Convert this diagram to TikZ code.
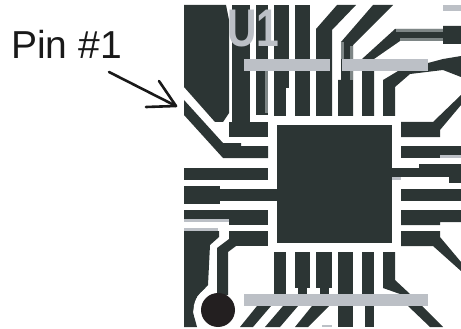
\documentclass[tikz,border=0pt]{standalone}
\usepackage{fontspec}
\setmainfont{Liberation Sans}
\definecolor{cu}{HTML}{2C3534}
\definecolor{silk}{HTML}{BCC0C6}
\definecolor{edge}{HTML}{7E8686}
\definecolor{dot}{HTML}{231F20}
\tikzset{cop/.style={fill=cu,draw=none},
 gray strip/.style={fill=silk,draw=none},
 soft edge/.style={fill=edge,draw=none},
 lead/.style={draw=black!90,line width=2.6pt,line cap=round,line join=round}}
\begin{document}
\begin{tikzpicture}[x=1pt,y=-1pt]
\useasboundingbox (0,0) rectangle (461,329);
% left column
\path[cop] (184,5)--(226,5)--(229,20)--(229,113)--(223,122)--(215,122)--(184,87)--cycle;
\path[cop] (232,5) rectangle (250,122);
\path[cop] (229,122) rectangle (268,137);
\path[cop] (184,100)--(184,115)--(223,158)--(268,158)--(268,146)--(241,146)--(241,143)--(223,143)--cycle;
\path[cop] (184,168) rectangle (268,180);
\path[cop] (184,186) rectangle (220,204);
\path[cop] (220,189) rectangle (277,201);
\path[cop] (184,210) rectangle (268,219);
\path[cop] (229,219) rectangle (268,225);
\path[fill=silk] (184,219) rectangle (229,222);
\path[cop] (229,231) rectangle (268,246);
\path[cop] (184,231)--(219,231)--(219,237)--(210,245)--(208,285)--(197,297)--(193,312)--(197,327)--(184,327)--cycle;
\path[fill=silk] (184,228) rectangle (218,231);
% centre pad
\path[cop] (277,125) rectangle (392,243);
% top verticals
\path[cop] (256,5) rectangle (268,115);
\path[soft edge] (265,71) rectangle (268,113);
\path[cop] (274,5) rectangle (286,116);
\path[cop] (286,5) rectangle (289,88);
\path[cop] (295,5) rectangle (310,116);
\path[cop] (316,116)--(332,116)--(332,30)--(356,5)--(337,5)--(316,29)--cycle;
\path[cop] (338,116)--(353,116)--(353,45)--(393,5)--(373,5)--(341,42)--(341,80)--(338,80)--cycle;
\path[soft edge] (341,42) rectangle (344,59);
\path[soft edge] (350,46) rectangle (353,80);
\path[cop] (362,116)--(374,116)--(374,59)--(400,41)--(443,41)--(443,44)--(461,44)--(461,26)--(443,26)--(443,29)--(395,29)--(362,59)--cycle;
\path[soft edge] (396,29) rectangle (443,32);
\path[soft edge] (400,38) rectangle (443,41);
\path[cop] (383,116)--(395,116)--(395,87)--(410,74)--(443,70)--(461,77)--(461,56)--(443,59)--(428,63)--(420,70)--(398,71)--(383,80)--cycle;
% right column
\path[cop] (401,122)--(433,122)--(461,95)--(461,105)--(440,130)--(440,137)--(401,137)--cycle;
\path[cop] (401,146) rectangle (461,158);
\path[fill=silk] (440,155) rectangle (461,158);
\path[cop] (419,164) rectangle (461,168);
\path[cop] (392,168) rectangle (461,177);
\path[cop] (449,177) rectangle (461,183);
\path[fill=silk] (392,177) rectangle (401,180);
\path[cop] (401,189) rectangle (461,201);
\path[cop] (401,210)--(461,210)--(461,222)--(440,222)--(440,225)--(401,225)--cycle;
\path[cop] (401,231)--(440,231)--(440,237)--(461,262)--(461,271)--(433,246)--(401,246)--cycle;
% bottom verticals
\path[cop] (274,252) rectangle (286,294);
\path[cop] (295,252) rectangle (310,288);
\path[cop] (298,288) rectangle (307,294);
\path[cop] (316,252) rectangle (332,288);
\path[cop] (320,288) rectangle (329,294);
\path[cop] (338,252) rectangle (353,327);
\path[cop] (362,252) rectangle (374,327);
\path[cop] (383,252)--(395,252)--(395,280)--(410,294)--(400,294)--(383,288)--cycle;
% traces below the bar
\path[cop] (257,306)--(271,306)--(253,327)--(240,327)--cycle;
\path[cop] (283,306)--(298,306)--(280,327)--(265,327)--cycle;
\path[cop] (312,306)--(329,306)--(308,327)--(295,327)--cycle;
\path[cop] (408,306)--(422,306)--(443,327)--(430,327)--cycle;
\path[fill=white] (362,306) rectangle (365,327);
% silk strips
\path[gray strip] (244,59) rectangle (330,71);
\path[gray strip] (342,59) rectangle (428,71);
\path[gray strip] (443,5) rectangle (461,11);
\path[gray strip] (244,294) rectangle (428,306);
\path[gray strip] (322,325) rectangle (332,327);
% pin circle
\node[circle,fill=white,draw=none,minimum size=49pt,inner sep=0pt] (ring) at (218,310) {};
\path[cop] (229,239)--(217,248)--(217,295)--(228,295)--(228,252)--(236,246)--cycle;
\node[circle,fill=dot,draw=none,minimum size=34pt,inner sep=0pt] (pindot) at (218,310) {};
% U1
\node[anchor=base west,inner sep=0pt,text=silk,font=\fontsize{53}{53}\selectfont\bfseries,xscale=.77] (u1) at (227,47) {U1};
% label
\node[anchor=base west,inner sep=0pt,text=black!90,font=\fontsize{39}{39}\selectfont] (pin) at (11,59) {Pin \#1};
\coordinate (tail) at (109,72);
\coordinate (tip) at (176,106);
\coordinate (arma) at (159,81);
\coordinate (armb) at (146,107);
\draw[lead] (tail)--(tip);
\draw[lead] (arma)--(tip)--(armb);
\end{tikzpicture}
\end{document}
